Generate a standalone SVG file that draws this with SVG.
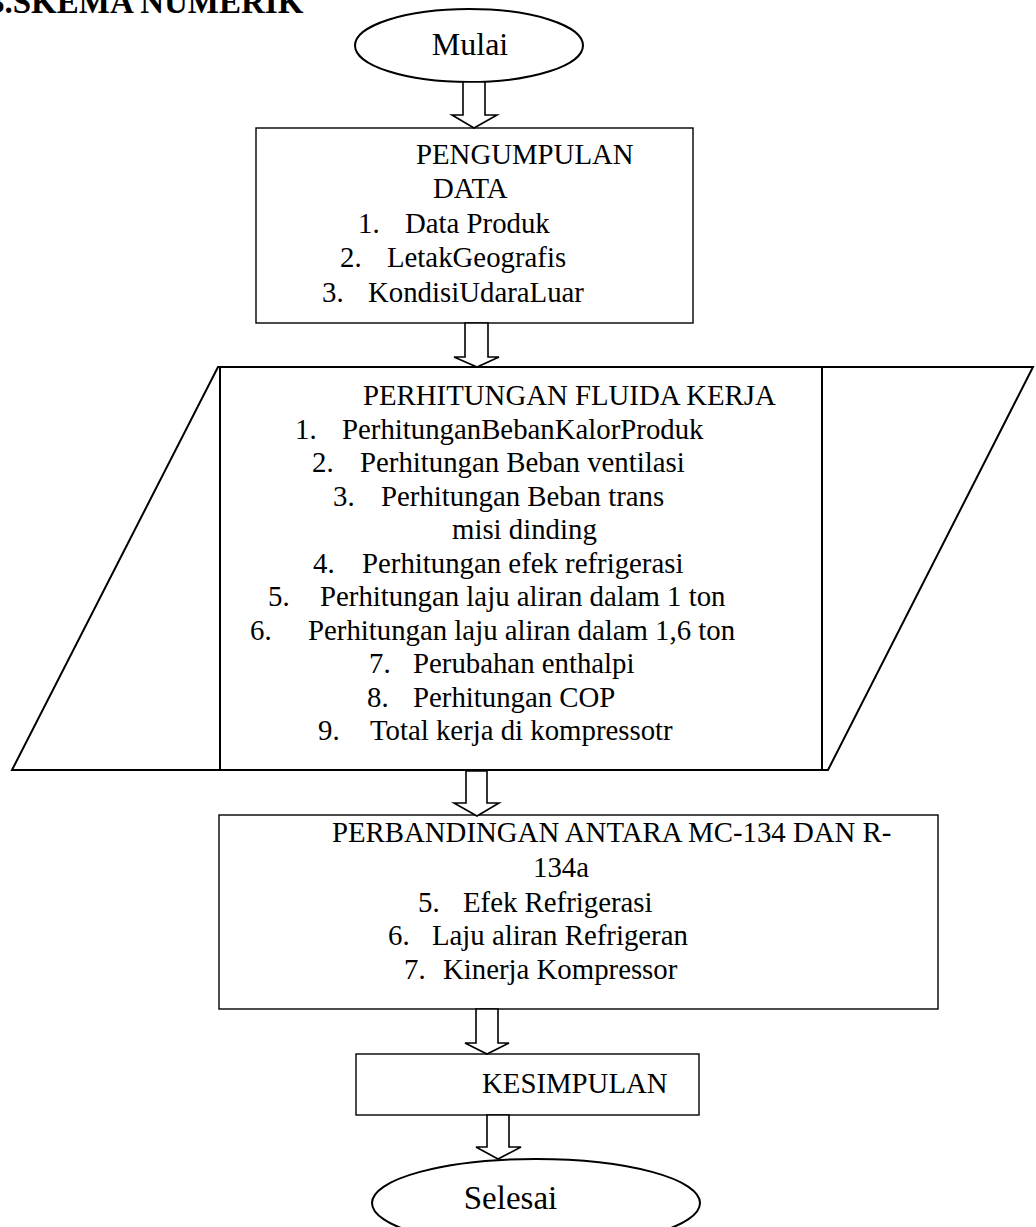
<svg xmlns="http://www.w3.org/2000/svg" width="1036" height="1227" viewBox="0 0 1036 1227">
<style>
text { font-family: "Liberation Serif", "Times New Roman", serif; font-size: 28.8px; fill: #000; }
.title { font-weight: bold; font-size: 33px; }
.termtext { font-size: 32px; }
.box { fill: #fff; stroke: #000; stroke-width: 1.4; }
.thick { fill: none; stroke: #000; stroke-width: 2; }
.term { fill: #fff; stroke: #000; stroke-width: 2; }
.arrow { fill: #fff; stroke: #000; stroke-width: 1.6; stroke-linejoin: miter; }
</style>
<rect x="0" y="0" width="1036" height="1227" fill="#fff"/>
<text class="title" x="-12" y="13">3.SKEMA NUMERIK</text>

<g id="mulai">
<ellipse class="term" cx="469" cy="45.5" rx="114" ry="36.5"/>
<text class="termtext" x="470" y="55" text-anchor="middle">Mulai</text>
</g>

<g id="pengumpulan">
<rect class="box" x="256" y="128" width="437" height="195"/>
<text x="416" y="163.5">PENGUMPULAN</text>
<text x="433" y="198">DATA</text>
<text x="358" y="232.5">1.</text><text x="405" y="232.5">Data Produk</text>
<text x="340" y="267">2.</text><text x="387" y="267">LetakGeografis</text>
<text x="322" y="301.5">3.</text><text x="368" y="301.5">KondisiUdaraLuar</text>
</g>

<g id="perhitungan">
<polygon class="thick" points="218,367 1033,367 828,770 12,770"/>
<line class="thick" x1="220" y1="367" x2="220" y2="770"/>
<line class="thick" x1="822" y1="367" x2="822" y2="770"/>
<text x="363" y="405">PERHITUNGAN FLUIDA KERJA</text>
<text x="295" y="438.5">1.</text><text x="342" y="438.5">PerhitunganBebanKalorProduk</text>
<text x="312" y="472">2.</text><text x="360" y="472">Perhitungan Beban ventilasi</text>
<text x="333" y="505.5">3.</text><text x="381" y="505.5">Perhitungan Beban trans</text>
<text x="452" y="539">misi dinding</text>
<text x="313" y="572.5">4.</text><text x="362" y="572.5">Perhitungan efek refrigerasi</text>
<text x="268" y="606">5.</text><text x="320" y="606">Perhitungan laju aliran dalam 1 ton</text>
<text x="250" y="639.5">6.</text><text x="308" y="639.5">Perhitungan laju aliran dalam 1,6 ton</text>
<text x="369" y="673">7.</text><text x="413" y="673">Perubahan enthalpi</text>
<text x="367" y="706.5">8.</text><text x="413" y="706.5">Perhitungan COP</text>
<text x="318" y="740">9.</text><text x="370" y="740">Total kerja di kompressotr</text>
</g>

<g id="perbandingan">
<rect class="box" x="219" y="815" width="719" height="194"/>
<text x="332" y="842">PERBANDINGAN ANTARA MC-134 DAN R-</text>
<text x="533" y="877">134a</text>
<text x="418" y="911.5">5.</text><text x="463" y="911.5">Efek Refrigerasi</text>
<text x="388" y="945">6.</text><text x="432" y="945">Laju aliran Refrigeran</text>
<text x="404" y="978.5">7.</text><text x="443" y="978.5">Kinerja Kompressor</text>
</g>

<g id="kesimpulan">
<rect class="box" x="356" y="1054" width="343" height="61"/>
<text x="482" y="1093">KESIMPULAN</text>
</g>

<g id="selesai">
<ellipse class="term" cx="536" cy="1203" rx="164" ry="44"/>
<text class="termtext" x="510.5" y="1209" text-anchor="middle" style="font-size:33px">Selesai</text>
</g>

<g id="connectors">
<polygon class="arrow" points="463,82 485,82 485,115 497,115 474,128 452,115 463,115"/>
<polygon class="arrow" points="465,323 488,323 488,357 499,357 477,367 454,357 465,357"/>
<polygon class="arrow" points="466,771 487,771 487,803 499,803 477,816 454,803 466,803"/>
<polygon class="arrow" points="476,1009 498,1009 498,1043 509,1043 487,1054 465,1043 476,1043"/>
<polygon class="arrow" points="487,1115 509,1115 509,1147 521,1147 498,1159 476,1147 487,1147"/>
</g>
</svg>
